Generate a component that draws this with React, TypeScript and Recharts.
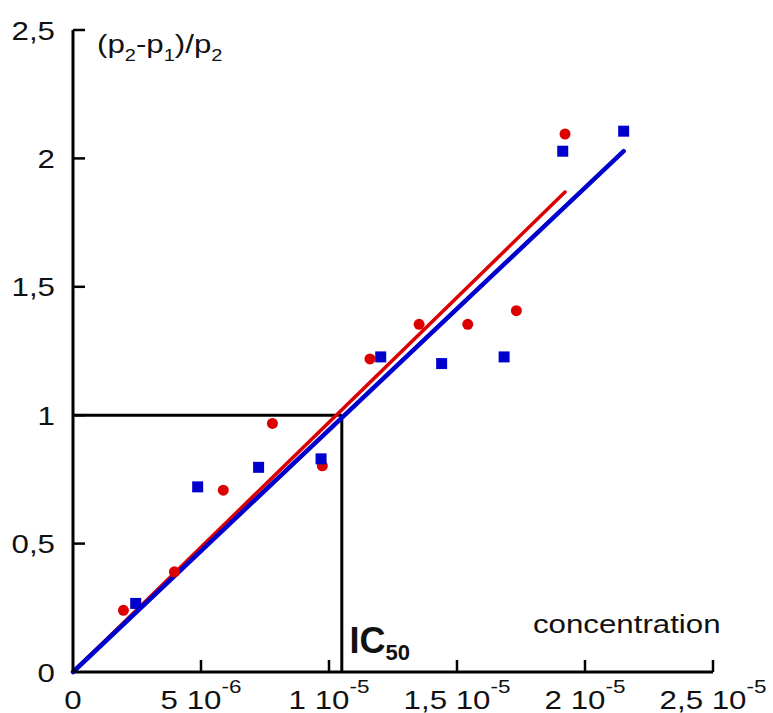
import { ComposedChart, Scatter, Line, XAxis, YAxis, ReferenceLine } from 'recharts'

// axis ticks
const xTicks = [0, 5e-6, 1e-5, 1.5e-5, 2e-5, 2.5e-5]
const xTickMain = ['0', '5', '1', '1,5', '2', '2,5']
const xTickExp = ['', '-6', '-5', '-5', '-5', '-5']
const yTicks = [0, 0.5, 1, 1.5, 2, 2.5]
const yTickLabels = ['0', '0,5', '1', '1,5', '2', '2,5']

// measured points
const redX = [1.97e-6, 3.96e-6, 5.87e-6, 7.79e-6, 9.74e-6, 1.16e-5, 1.352e-5, 1.542e-5, 1.732e-5, 1.922e-5]
const redY = [0.24, 0.39, 0.708, 0.968, 0.803, 1.219, 1.354, 1.354, 1.407, 2.095]
const blueX = [2.45e-6, 4.87e-6, 7.25e-6, 9.69e-6, 1.202e-5, 1.44e-5, 1.684e-5, 1.913e-5, 2.151e-5]
const blueY = [0.267, 0.721, 0.797, 0.83, 1.227, 1.201, 1.227, 2.028, 2.106]

// fitted lines
const redFitX = [0, 1.922e-5]
const redFitY = [0, 1.869]
const blueFitX = [0, 2.151e-5]
const blueFitY = [0, 2.028]

const ic50X = 1.05e-5
const ic50Y = 1

const zip = (xs: number[], ys: number[]) => xs.map((x, i) => ({ x, y: ys[i] }))
const redPts = zip(redX, redY)
const bluePts = zip(blueX, blueY)
const redFit = zip(redFitX, redFitY)
const blueFit = zip(blueFitX, blueFitY)

const RED = '#dd0000'
const BLUE = '#0000cc'
const FONT = '"Liberation Sans", Arial, sans-serif'
const STRETCH = 1.25

const XTick = (props: any) => {
  const { x, y, payload } = props
  const i = xTicks.indexOf(payload.value)
  return (
    <g>
      {payload.value !== 0 && <line x1={x} x2={x} y1={y} y2={y - 12} stroke="#000" strokeWidth={2.5} />}
      <g transform={`translate(${x},${y + 37}) scale(${STRETCH},1)`}>
        <text x={0} y={0} textAnchor="middle" fontSize={25} fontFamily={FONT} fill="#111">
          {xTickMain[i]}
          {xTickExp[i] && <tspan> 10</tspan>}
          {xTickExp[i] && <tspan dy={-16} fontSize={18}>{xTickExp[i]}</tspan>}
        </text>
      </g>
    </g>
  )
}

const YTick = (props: any) => {
  const { x, y, payload } = props
  const i = yTicks.indexOf(payload.value)
  return (
    <g>
      {payload.value !== 0 && <line x1={x} x2={x + 12} y1={y} y2={y} stroke="#000" strokeWidth={2.5} />}
      <g transform={`translate(${x - 18},${y + 9.5}) scale(${STRETCH},1)`}>
        <text x={0} y={0} textAnchor="end" fontSize={25} fontFamily={FONT} fill="#111">
          {yTickLabels[i]}
        </text>
      </g>
    </g>
  )
}

const Dot = (p: any) => <circle cx={p.cx} cy={p.cy} r={5.5} fill={RED} />
const Square = (p: any) => <rect x={p.cx - 5.5} y={p.cy - 5.5} width={11} height={11} fill={BLUE} />

export default function App() {
  return (
    <div style={{ position: 'relative', width: 773, height: 713, background: '#fff' }}>
      <style>{'body{margin:0}'}</style>
      <ComposedChart width={773} height={713} margin={{ top: 30, right: 60, bottom: 0, left: 0 }}>
        <XAxis
          type="number"
          dataKey="x"
          domain={[0, 2.5e-5]}
          ticks={xTicks}
          height={41}
          tickSize={0}
          tickMargin={0}
          tickLine={false}
          tick={<XTick />}
          axisLine={{ stroke: '#000', strokeWidth: 3 }}
          interval={0}
        />
        <YAxis
          type="number"
          dataKey="y"
          domain={[0, 2.5]}
          ticks={yTicks}
          width={73}
          tickSize={0}
          tickMargin={0}
          tickLine={false}
          tick={<YTick />}
          axisLine={{ stroke: '#000', strokeWidth: 3 }}
          interval={0}
        />
        <ReferenceLine segment={[{ x: 0, y: ic50Y }, { x: ic50X, y: ic50Y }]} stroke="#000" strokeWidth={3} />
        <ReferenceLine segment={[{ x: ic50X, y: ic50Y }, { x: ic50X, y: 0 }]} stroke="#000" strokeWidth={3} />
        <Line data={redFit} dataKey="y" stroke={RED} strokeWidth={3.5} strokeLinecap="round" dot={false} activeDot={false} isAnimationActive={false} />
        <Line data={blueFit} dataKey="y" stroke={BLUE} strokeWidth={4.5} strokeLinecap="round" dot={false} activeDot={false} isAnimationActive={false} />
        <Scatter data={redPts} shape={Dot} isAnimationActive={false} />
        <Scatter data={bluePts} shape={Square} isAnimationActive={false} />
      </ComposedChart>
      <svg width={773} height={713} style={{ position: 'absolute', left: 0, top: 0, pointerEvents: 'none' }}>
        <g transform={`translate(97,53) scale(${STRETCH},1)`}>
          <text x={0} y={0} fontSize={25} fontFamily={FONT} fill="#111">
            (p<tspan dy={8} fontSize={16}>2</tspan>
            <tspan dy={-8}>-p</tspan>
            <tspan dy={8} fontSize={16}>1</tspan>
            <tspan dy={-8}>)/p</tspan>
            <tspan dy={8} fontSize={16}>2</tspan>
          </text>
        </g>
        <g transform={`translate(533,633) scale(${STRETCH},1)`}>
          <text x={0} y={0} fontSize={25} fontFamily={FONT} fill="#111">concentration</text>
        </g>
        <text x={349.5} y={653} fontSize={36} fontWeight="bold" fontFamily={FONT} fill="#111">
          IC<tspan dy={7} fontSize={22}>50</tspan>
        </text>
      </svg>
    </div>
  )
}
